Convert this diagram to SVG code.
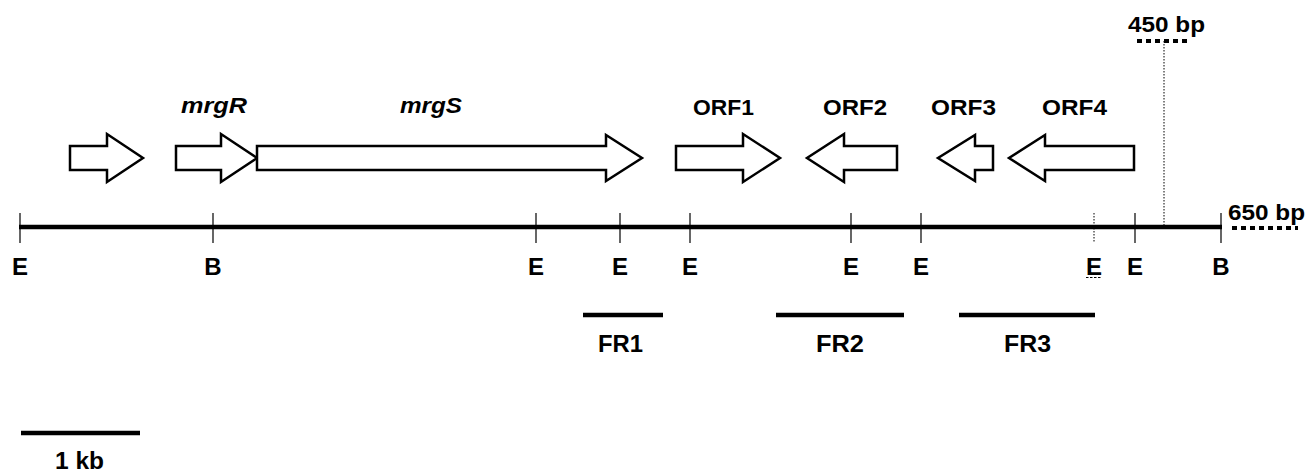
<svg xmlns="http://www.w3.org/2000/svg" width="1308" height="472" viewBox="0 0 1308 472">
<style>
.lbl{font-family:"Liberation Sans",Arial,sans-serif;font-weight:bold;font-size:22px;fill:#000}
.big{font-size:24px}
.it{font-style:italic}
.site{font-family:"Liberation Sans",Arial,sans-serif;font-weight:bold;font-size:24px;fill:#000;text-anchor:middle}
.gene{fill:#fff;stroke:#000;stroke-width:2.5;stroke-linejoin:miter}
.tick{stroke:#000;stroke-width:1.2}
.bar{stroke:#000;stroke-width:4.5}
</style>
<rect width="1308" height="472" fill="#fff"/>
<g id="connectors">
  <line class="bar" x1="19" y1="227" x2="1222" y2="227"/>
  <line x1="1164" y1="41" x2="1164" y2="226" stroke="#000" stroke-width="1" stroke-dasharray="1.5,1.5"/>
  <line x1="1137" y1="41" x2="1189" y2="41" stroke="#000" stroke-width="4" stroke-dasharray="5,4"/>
  <line x1="1232" y1="228" x2="1298" y2="228" stroke="#000" stroke-width="4" stroke-dasharray="5,4"/>
</g>
<g id="ticks">
  <line class="tick" x1="20" y1="213" x2="20" y2="243"/>
  <line class="tick" x1="213" y1="213" x2="213" y2="243"/>
  <line class="tick" x1="536" y1="213" x2="536" y2="243"/>
  <line class="tick" x1="620" y1="213" x2="620" y2="243"/>
  <line class="tick" x1="690" y1="213" x2="690" y2="243"/>
  <line class="tick" x1="851" y1="213" x2="851" y2="243"/>
  <line class="tick" x1="921" y1="213" x2="921" y2="243"/>
  <line x1="1094" y1="213" x2="1094" y2="243" stroke="#000" stroke-width="1" stroke-dasharray="1.5,1.5"/>
  <line class="tick" x1="1135" y1="213" x2="1135" y2="243"/>
  <line class="tick" x1="1221" y1="213" x2="1221" y2="243"/>
</g>
<g id="sites">
  <text class="site" x="20" y="275">E</text>
  <text class="site" x="213" y="275">B</text>
  <text class="site" x="536" y="275">E</text>
  <text class="site" x="620" y="275">E</text>
  <text class="site" x="690" y="275">E</text>
  <text class="site" x="851" y="275">E</text>
  <text class="site" x="921" y="275">E</text>
  <text class="site" x="1094" y="275">E</text>
  <line x1="1086" y1="277.5" x2="1102" y2="277.5" stroke="#000" stroke-width="1.2" stroke-dasharray="2.5,1.5"/>
  <text class="site" x="1135" y="275">E</text>
  <text class="site" x="1221" y="275">B</text>
</g>
<g id="gene-unnamed">
  <polygon class="gene" points="70,146 107,146 107,134 143,158 107,182 107,170 70,170"/>
</g>
<g id="gene-mrgR">
  <polygon class="gene" points="176,146 221,146 221,134 257,158 221,182 221,170 176,170"/>
  <text class="lbl it" x="181" y="113" textLength="66" lengthAdjust="spacingAndGlyphs">mrgR</text>
</g>
<g id="gene-mrgS">
  <polygon class="gene" points="257,146 606,146 606,135 642,158 606,181 606,170 257,170"/>
  <text class="lbl it" x="400" y="113" textLength="62" lengthAdjust="spacingAndGlyphs">mrgS</text>
</g>
<g id="gene-ORF1">
  <polygon class="gene" points="676,146 743,146 743,134 780,158 743,182 743,170 676,170"/>
  <text class="lbl" x="693" y="115" textLength="61" lengthAdjust="spacingAndGlyphs">ORF1</text>
</g>
<g id="gene-ORF2">
  <polygon class="gene" points="897,146 844,146 844,134 807,158 844,182 844,170 897,170"/>
  <text class="lbl" x="823" y="115" textLength="64" lengthAdjust="spacingAndGlyphs">ORF2</text>
</g>
<g id="gene-ORF3">
  <polygon class="gene" points="993,146 975,146 975,135 938,158 975,181 975,170 993,170"/>
  <text class="lbl" x="931" y="115" textLength="65" lengthAdjust="spacingAndGlyphs">ORF3</text>
</g>
<g id="gene-ORF4">
  <polygon class="gene" points="1134,146 1045,146 1045,135 1009,158 1045,181 1045,170 1134,170"/>
  <text class="lbl" x="1042" y="115" textLength="65" lengthAdjust="spacingAndGlyphs">ORF4</text>
</g>
<g id="label-450">
  <text class="lbl" x="1128" y="32" textLength="77" lengthAdjust="spacingAndGlyphs">450 bp</text>
</g>
<g id="label-650">
  <text class="lbl" x="1228" y="220" textLength="77" lengthAdjust="spacingAndGlyphs">650 bp</text>
</g>
<g id="FR1">
  <line class="bar" x1="583" y1="315" x2="663" y2="315"/>
  <text class="lbl big" x="598" y="352" textLength="45" lengthAdjust="spacingAndGlyphs">FR1</text>
</g>
<g id="FR2">
  <line class="bar" x1="776" y1="315" x2="904" y2="315"/>
  <text class="lbl big" x="816" y="352" textLength="48" lengthAdjust="spacingAndGlyphs">FR2</text>
</g>
<g id="FR3">
  <line class="bar" x1="959" y1="315" x2="1095" y2="315"/>
  <text class="lbl big" x="1004" y="352" textLength="47" lengthAdjust="spacingAndGlyphs">FR3</text>
</g>
<g id="scale">
  <line class="bar" x1="21" y1="433" x2="140" y2="433"/>
  <text class="lbl big" x="55" y="469" textLength="49" lengthAdjust="spacingAndGlyphs">1 kb</text>
</g>
</svg>
